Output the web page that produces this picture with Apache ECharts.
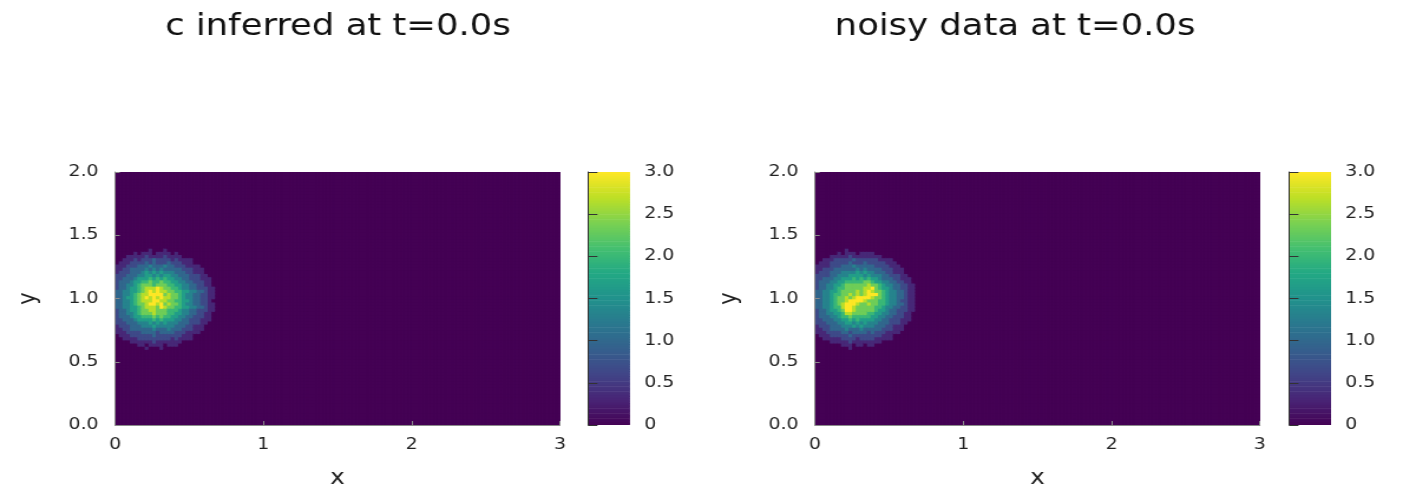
<!DOCTYPE html>
<html><head><meta charset="utf-8">
<script src="https://cdn.jsdelivr.net/npm/echarts@6/dist/echarts.min.js"></script>
<style>
html,body{margin:0;padding:0;background:#fff;overflow:hidden;}
#wrap{width:1404px;height:488px;overflow:hidden;}
#chart{width:1190px;height:488px;transform:scaleX(1.18);transform-origin:0 0;}
</style></head><body><div id="wrap"><div id="chart"></div></div>
<script>
// ---------- data ----------
const titles = ['c inferred at t=0.0s', 'noisy data at t=0.0s'];
const xTicks = [0, 1, 2, 3];
const yTicks = [0.0, 0.5, 1.0, 1.5, 2.0];
const colorTicks = [0, 0.5, 1.0, 1.5, 2.0, 2.5, 3.0];
const xRange = [0, 3];
const yRange = [0, 2];
const colorRange = [0, 3];
const cellSize = 0.025;          // grid spacing in x and y
const nCols = 120, nRows = 80;   // full grid
// blob block: 28 columns starting at x=0, 32 rows; top row covers y=1.375..1.4
const blobTopRow = 55;
const levelStep = 1 / 3;         // each digit = one third of a unit of c
const inferredRows = [
"0000000001000100000000000000",
"0000010111011110100000000000",
"0001111121111211110000000000",
"0011121222322221211110000000",
"0111222232322232221110000000",
"1112223334333433222111100000",
"1122333343434333332221110000",
"1222333454545444333221110000",
"2223334455454554433322211000",
"2233345556565655443322211100",
"2333455667667665544332221100",
"2334456777677766554433221100",
"2334556788898776654433222110",
"3344556789898877665544332110",
"3344567889999787765443322110",
"3345567898989887765443322110",
"3344567888998877665543322100",
"3344567789989787765443322110",
"3344556788879877665544332110",
"2334556778877766654433222110",
"2334456777877766554433221100",
"2333455666767665544332221100",
"2233345555656555443322211100",
"2223334445454544433322211000",
"1222333444544444333221110000",
"1122333333433343332221110000",
"1112222333323333222111100000",
"0111222222322222221110000000",
"0011112222222221211110000000",
"0000111111211111110000000000",
"0000001101111011100000000000",
"0000000010001000000000000000"
];
const noisyRows = [
"0000000010000000000000000000",
"0000001011101111000000000000",
"0000111112111111110000000000",
"0011122222322222211110000000",
"0111222223222322222111000000",
"1111222333433333222211100000",
"1122233333343433332221110000",
"1222333444454544333221110000",
"2222334445555454443322211000",
"2233344555656565543332211100",
"2333445566666776554433221100",
"2334455677777787765443322110",
"2334456677777889765543322110",
"3344556777787898776544332110",
"3344566778787899976544332110",
"3344567787899998776544332110",
"3344567789999877766544322110",
"3344567899987787766544332110",
"3344566899877777665443322110",
"2334556799877777655433222110",
"2334455688777766554433221100",
"2333445667666665544332221100",
"2233344556565555443322211100",
"2223334455454544433322211000",
"1222333444545444333221110000",
"1122333343334333332221110000",
"1112222332333323222111100000",
"0111222223222222221110000000",
"0011111222212222111110000000",
"0000111112111111110000000000",
"0000000111011011000000000000",
"0000000001000000000000000000"
];
const viridis = ['#440154','#482475','#414487','#355f8d','#2a788e','#21918c','#22a884','#44bf70','#7ad151','#bddf26','#fde725'];

// ---------- build cells ----------
function buildCells(rows) {
  const out = [];
  for (let i = 0; i < nCols; i++) {
    for (let j = 0; j < nRows; j++) {
      const r = blobTopRow - j;
      let v = 0;
      if (r >= 0 && r < rows.length && i < rows[r].length) v = Number(rows[r][i]) * levelStep;
      out.push([i * cellSize, j * cellSize, v]);
    }
  }
  return out;
}
const cellsInferred = buildCells(inferredRows);
const cellsNoisy = buildCells(noisyRows);

// colour-bar strips (legend of the colour scale)
const barStep = 0.02;
const barStrips = [];
for (let k = 0; k < Math.round((colorRange[1] - colorRange[0]) / barStep); k++) {
  const lo = colorRange[0] + k * barStep;
  barStrips.push([0, lo, lo + barStep / 2]);
}

function renderCell(params, api) {
  const x = api.value(0), y = api.value(1);
  const p0 = api.coord([x, y + cellSize]);
  const p1 = api.coord([x + cellSize, y]);
  return {
    type: 'rect',
    shape: { x: p0[0], y: p0[1], width: p1[0] - p0[0] + 0.8, height: p1[1] - p0[1] + 0.8 },
    style: { fill: api.visual('color') },
    silent: true
  };
}
function renderStrip(params, api) {
  const lo = api.value(1);
  const p0 = api.coord([0, lo + barStep]);
  const p1 = api.coord([1, lo]);
  return {
    type: 'rect',
    shape: { x: p0[0], y: p0[1], width: p1[0] - p0[0], height: p1[1] - p0[1] + 0.6 },
    style: { fill: api.visual('color') },
    silent: true
  };
}

// ---------- layout ----------
const FONT = 'DejaVu Sans';
const TXT = '#222';
const plotW = 377, plotTop = 172, plotH = 253;
const plotLefts = [97.5, 690.7];
const barLefts = [498.3, 1092.4];
const barW = 35.6;
const titleCenters = [286.4, 860.2];

const grids = [], xAxes = [], yAxes = [], series = [], titleOpts = [];
[cellsInferred, cellsNoisy].forEach((cells, k) => {
  grids.push({ left: plotLefts[k], top: plotTop, width: plotW, height: plotH,
    outerBoundsMode: 'none', containLabel: false,
    show: true, backgroundColor: viridis[0], borderWidth: 0 });
  grids.push({ left: barLefts[k], top: plotTop, width: barW, height: plotH,
    outerBoundsMode: 'none', containLabel: false });
  const gi = k * 2, gb = k * 2 + 1;
  xAxes.push({
    gridIndex: gi, type: 'value', min: xRange[0], max: xRange[1], interval: 1, z: 10,
    axisLine: { show: true, lineStyle: { color: '#8a8a8a', width: 1 } },
    axisTick: { show: true, inside: true, length: 4, lineStyle: { color: '#8a8a8a' } },
    axisLabel: { fontFamily: FONT, fontSize: 16, color: TXT, margin: 12, formatter: v => String(v) },
    splitLine: { show: false },
    name: 'x', nameLocation: 'middle', nameGap: 43,
    nameTextStyle: { fontFamily: FONT, fontSize: 21, color: TXT }
  });
  yAxes.push({
    gridIndex: gi, type: 'value', min: yRange[0], max: yRange[1], interval: 0.5, z: 10,
    axisLine: { show: true, lineStyle: { color: '#8a8a8a', width: 1 } },
    axisTick: { show: true, inside: true, length: 4, lineStyle: { color: '#8a8a8a' } },
    axisLabel: { fontFamily: FONT, fontSize: 16, color: TXT, margin: 14, formatter: v => v.toFixed(1) },
    splitLine: { show: false },
    name: 'y', nameLocation: 'middle', nameGap: 62, nameRotate: 90,
    nameTextStyle: { fontFamily: FONT, fontSize: 21, color: TXT }
  });
  xAxes.push({ gridIndex: gb, type: 'value', min: 0, max: 1, show: false });
  yAxes.push({
    gridIndex: gb, type: 'value', position: 'right', min: colorRange[0], max: colorRange[1], interval: 0.5, z: 10,
    axisLine: { show: true, lineStyle: { color: '#333', width: 1 } },
    axisTick: { show: true, inside: false, length: 8, lineStyle: { color: '#333' } },
    axisLabel: { fontFamily: FONT, fontSize: 16, color: TXT, margin: 12,
      formatter: v => (v === 0 ? '0' : v.toFixed(1)) },
    splitLine: { show: false }
  });
  titleOpts.push({
    text: titles[k], left: titleCenters[k], top: 12, textAlign: 'center', padding: 0,
    textStyle: { fontFamily: FONT, fontSize: 30, fontWeight: 'normal', color: '#111' }
  });
});
series.push(
  { type: 'custom', name: titles[0], xAxisIndex: 0, yAxisIndex: 0, data: cellsInferred,
    encode: { x: 0, y: 1 }, renderItem: renderCell, clip: true, progressive: 0, silent: true },
  { type: 'custom', name: titles[1], xAxisIndex: 2, yAxisIndex: 2, data: cellsNoisy,
    encode: { x: 0, y: 1 }, renderItem: renderCell, clip: true, progressive: 0, silent: true },
  { type: 'custom', name: 'colorbar-left', xAxisIndex: 1, yAxisIndex: 1, data: barStrips,
    encode: { x: 0, y: 1 }, renderItem: renderStrip, clip: true, progressive: 0, silent: true },
  { type: 'custom', name: 'colorbar-right', xAxisIndex: 3, yAxisIndex: 3, data: barStrips,
    encode: { x: 0, y: 1 }, renderItem: renderStrip, clip: true, progressive: 0, silent: true }
);

const chart = echarts.init(document.getElementById('chart'), null, { renderer: 'canvas' });
chart.setOption({
  animation: false,
  backgroundColor: '#ffffff',
  title: titleOpts,
  grid: grids,
  xAxis: xAxes,
  yAxis: yAxes,
  visualMap: [{
    type: 'continuous', min: colorRange[0], max: colorRange[1], seriesIndex: [0, 1, 2, 3],
    dimension: 2, show: false, inRange: { color: viridis }
  }],
  series: series
});
</script></body></html>
